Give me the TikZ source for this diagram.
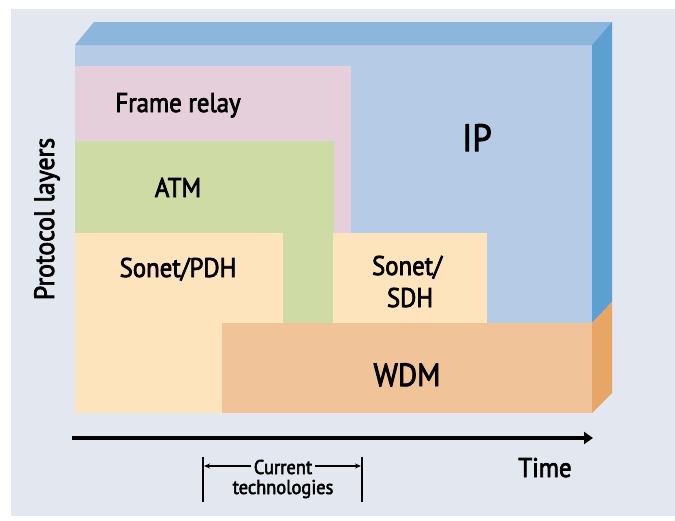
\documentclass[tikz,border=0pt]{standalone}
\usepackage{fontspec}
\newfontfamily\lbl{PT Sans}[FakeBold=2.6,FakeStretch=0.92]
\usetikzlibrary{arrows.meta}

\definecolor{bggray}{HTML}{E3E7EF}
\definecolor{ipfront}{HTML}{B6CCE6}
\definecolor{iptop}{HTML}{8CB6DB}
\definecolor{ipside}{HTML}{5E9FD1}
\definecolor{frpink}{HTML}{E5CFDA}
\definecolor{atmgreen}{HTML}{CFDBA5}
\definecolor{sonetfill}{HTML}{FDE4BD}
\definecolor{wdmfront}{HTML}{F0C398}
\definecolor{wdmside}{HTML}{E8A666}

\tikzset{
  lab/.style={anchor=base, inner sep=0pt, text=black,
    font=\lbl\fontsize{27}{30}\selectfont},
  biglab/.style={lab, font=\lbl\fontsize{#1}{#1}\selectfont},
  smalllab/.style={lab, font=\lbl\fontsize{20}{22}\selectfont},
  tick/.style={line width=1.5pt},
  span/.style={line width=1.3pt, -{Stealth[length=6pt,width=5pt]}},
  timeaxis/.style={line width=4pt, -{Triangle[length=9pt,width=12pt]}}
}

\begin{document}
\begin{tikzpicture}[x=1pt,y=-1pt]
\useasboundingbox (0,0) rectangle (675,520);
\fill[white] (0,0) rectangle (675,520);
\fill[bggray] (11,9) rectangle (675,516);

% box: front, top and right faces
\fill[ipfront] (75,45) rectangle (592,413);
\fill[iptop] (75,45) -- (94,22) -- (612,22) -- (592,45) -- cycle;
\fill[ipside] (592,45) -- (612,22) -- (612,302) -- (592,323) -- cycle;
\fill[wdmside] (592,323) -- (612,302) -- (612,393) -- (592,413) -- cycle;

% protocol layers on the front face
\fill[frpink] (75,66) rectangle (351,233);
\fill[atmgreen] (75,141) rectangle (334,323);
\fill[sonetfill] (75,233) rectangle (283,413);
\fill[sonetfill] (333,233) rectangle (487,323);
\fill[wdmfront] (222,323) rectangle (592,413);

% layer labels
\node[lab] (fr) at (178,112) {Frame relay};
\node[lab] (atm) at (178,197) {ATM};
\node[lab] (pdh) at (178,277) {Sonet/PDH};
\node[lab] (sdh1) at (407,275) {Sonet/};
\node[lab] (sdh2) at (410,307) {SDH};
\node[biglab=38] (ip) at (477,151) {IP};
\node[biglab=32] (wdm) at (407,386) {WDM};
\node[biglab=28, rotate=90] (axisy) at (54,219) {Protocol layers};

% time axis
\coordinate (t0) at (72,438);
\coordinate (t1) at (593,438);
\draw[timeaxis] (t0) -- (t1);
\node[lab] (time) at (545,477) {Time};

% span of current technologies
\coordinate (b1) at (203,457);
\coordinate (b2) at (203,502);
\coordinate (b3) at (362,457);
\coordinate (b4) at (362,502);
\draw[tick] (b1) -- (b2);
\draw[tick] (b3) -- (b4);
\node[smalllab] (cur) at (283,474) {Current};
\node[smalllab] (tech) at (283,494) {technologies};
\coordinate (la) at (204,466);
\coordinate (ra) at (361,466);
\draw[span] ([xshift=-3pt]cur.west |- la) -- (la);
\draw[span] ([xshift=3pt]cur.east |- ra) -- (ra);
\end{tikzpicture}
\end{document}
